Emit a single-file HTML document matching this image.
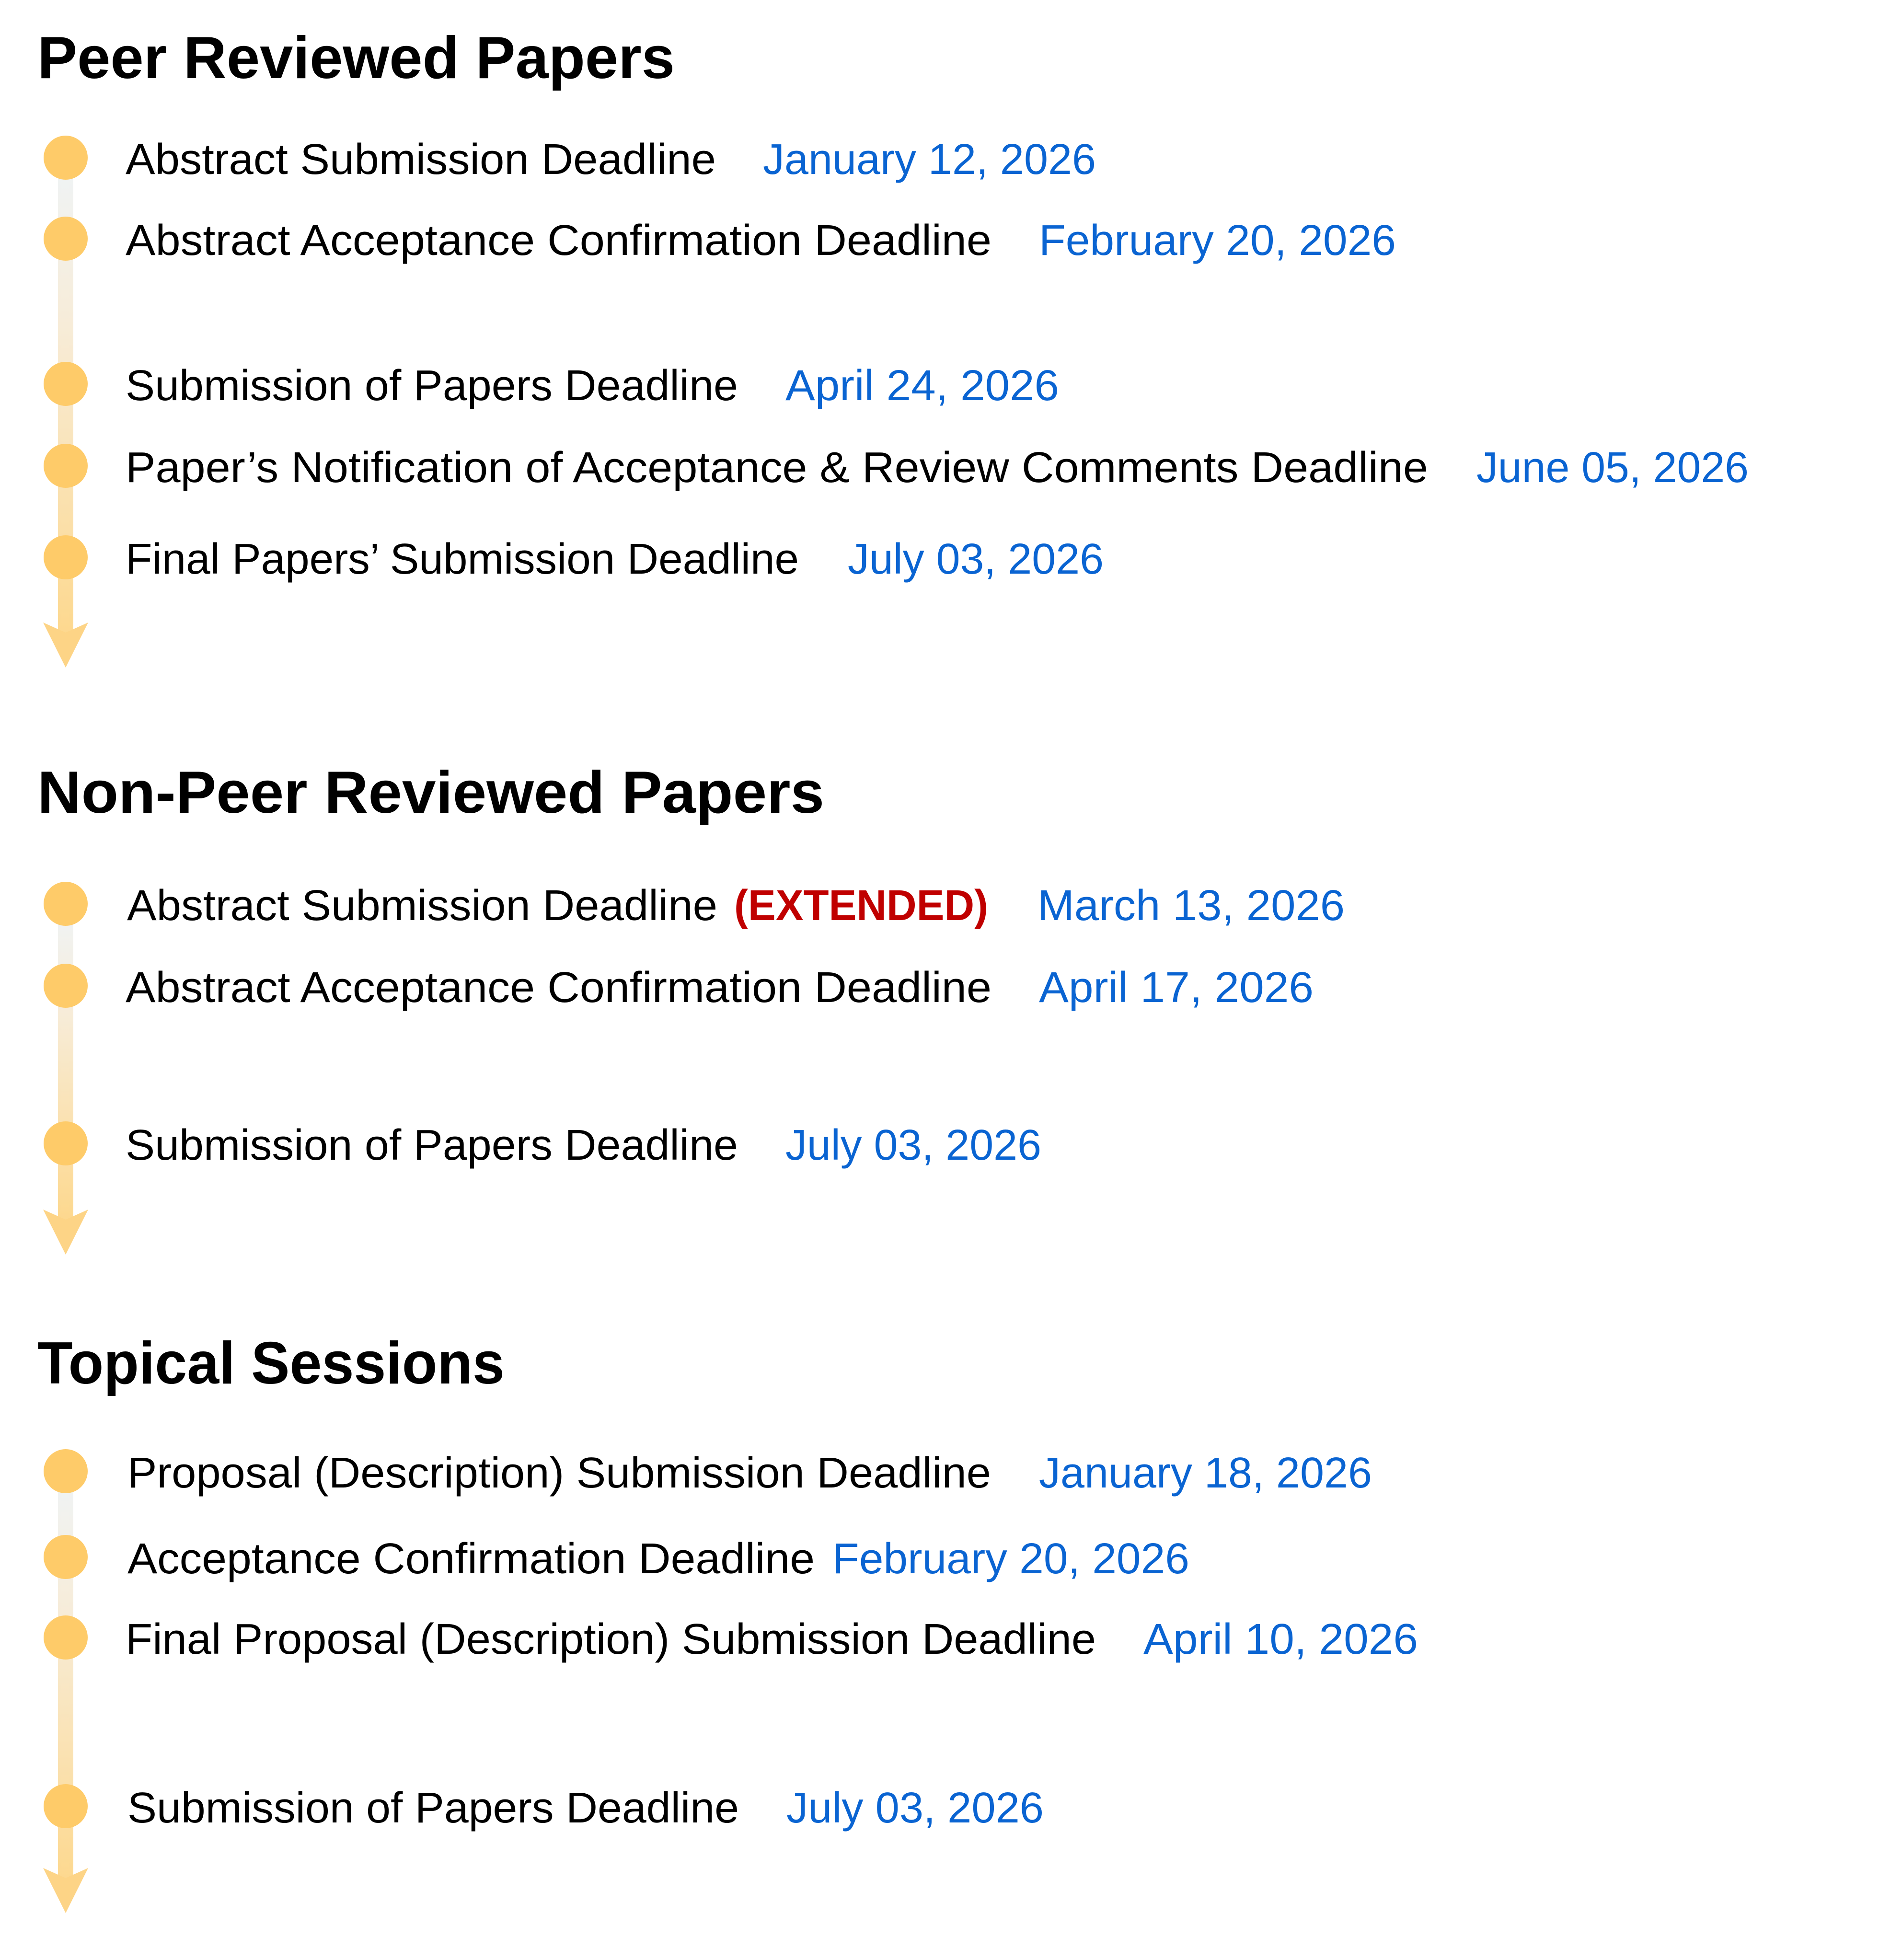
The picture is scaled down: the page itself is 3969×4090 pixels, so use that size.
<!DOCTYPE html>
<html><head><meta charset="utf-8"><style>
html,body{margin:0;padding:0;background:#fff;}
svg{display:block;}
text{font-family:"Liberation Sans","Noto Sans CJK KR",sans-serif;}
.h{font-weight:bold;font-size:124px;fill:#000;}
.l{font-size:90px;fill:#000;}
.d{font-size:90px;fill:#0a64d2;}
</style></head><body>
<svg width="3969" height="4090" viewBox="0 0 3969 4090" xmlns="http://www.w3.org/2000/svg">
<defs>
<linearGradient id="g1" x1="0" y1="0" x2="0" y2="1"><stop offset="0" stop-color="#eff4f7"/><stop offset="0.35" stop-color="#f7ecd8"/><stop offset="1" stop-color="#fdd88e"/></linearGradient>
</defs>
<!-- Section 1 -->
<text class="h" x="78" y="163" textLength="1330" lengthAdjust="spacingAndGlyphs">Peer Reviewed Papers</text>
<rect x="121" y="329" width="32" height="1000" fill="url(#g1)"/>
<polygon points="90,1299 137,1320 184,1299 137,1393" fill="#fdd486"/>
<g fill="#fecb69">
<circle cx="137" cy="329" r="46"/><circle cx="137" cy="498" r="46"/><circle cx="137" cy="801" r="46"/><circle cx="137" cy="972" r="46"/><circle cx="137" cy="1163" r="46"/>
</g>
<text class="l" x="262" y="363" textLength="1232" lengthAdjust="spacingAndGlyphs">Abstract Submission Deadline</text>
<text class="d" x="1592" y="363" textLength="695" lengthAdjust="spacingAndGlyphs">January 12, 2026</text>
<text class="l" x="262" y="532" textLength="1807" lengthAdjust="spacingAndGlyphs">Abstract Acceptance Confirmation Deadline</text>
<text class="d" x="2168" y="532" textLength="745" lengthAdjust="spacingAndGlyphs">February 20, 2026</text>
<text class="l" x="262" y="835" textLength="1278" lengthAdjust="spacingAndGlyphs">Submission of Papers Deadline</text>
<text class="d" x="1639" y="835" textLength="571" lengthAdjust="spacingAndGlyphs">April 24, 2026</text>
<text class="l" x="262" y="1006" textLength="2718" lengthAdjust="spacingAndGlyphs">Paper’s Notification of Acceptance &amp; Review Comments Deadline</text>
<text class="d" x="3081" y="1006" textLength="568" lengthAdjust="spacingAndGlyphs">June 05, 2026</text>
<text class="l" x="262" y="1197" textLength="1405" lengthAdjust="spacingAndGlyphs">Final Papers’ Submission Deadline</text>
<text class="d" x="1769" y="1197" textLength="534" lengthAdjust="spacingAndGlyphs">July 03, 2026</text>

<!-- Section 2 -->
<text class="h" x="78" y="1696" textLength="1642" lengthAdjust="spacingAndGlyphs">Non-Peer Reviewed Papers</text>
<rect x="121" y="1886" width="32" height="660" fill="url(#g1)"/>
<polygon points="90,2524 137,2545 184,2524 137,2618" fill="#fdd486"/>
<g fill="#fecb69">
<circle cx="137" cy="1886" r="46"/><circle cx="137" cy="2057" r="46"/><circle cx="137" cy="2386" r="46"/>
</g>
<text class="l" x="265" y="1920" textLength="1232" lengthAdjust="spacingAndGlyphs">Abstract Submission Deadline</text>
<text class="l" x="1532" y="1920" textLength="530" lengthAdjust="spacingAndGlyphs" style="fill:#c00000;font-weight:bold">(EXTENDED)</text>
<text class="d" x="2165" y="1920" textLength="641" lengthAdjust="spacingAndGlyphs">March 13, 2026</text>
<text class="l" x="262" y="2091" textLength="1807" lengthAdjust="spacingAndGlyphs">Abstract Acceptance Confirmation Deadline</text>
<text class="d" x="2168" y="2091" textLength="573" lengthAdjust="spacingAndGlyphs">April 17, 2026</text>
<text class="l" x="262" y="2420" textLength="1278" lengthAdjust="spacingAndGlyphs">Submission of Papers Deadline</text>
<text class="d" x="1639" y="2420" textLength="534" lengthAdjust="spacingAndGlyphs">July 03, 2026</text>

<!-- Section 3 -->
<text class="h" x="78" y="2887" textLength="975" lengthAdjust="spacingAndGlyphs">Topical Sessions</text>
<rect x="121" y="3070" width="32" height="860" fill="url(#g1)"/>
<polygon points="90,3898 137,3919 184,3898 137,3992" fill="#fdd486"/>
<g fill="#fecb69">
<circle cx="137" cy="3070" r="46"/><circle cx="137" cy="3249" r="46"/><circle cx="137" cy="3417" r="46"/><circle cx="137" cy="3769" r="46"/>
</g>
<text class="l" x="266" y="3104" textLength="1802" lengthAdjust="spacingAndGlyphs">Proposal (Description) Submission Deadline</text>
<text class="d" x="2168" y="3104" textLength="695" lengthAdjust="spacingAndGlyphs">January 18, 2026</text>
<text class="l" x="266" y="3283" textLength="1434" lengthAdjust="spacingAndGlyphs">Acceptance Confirmation Deadline</text>
<text class="d" x="1737" y="3283" textLength="745" lengthAdjust="spacingAndGlyphs">February 20, 2026</text>
<text class="l" x="262" y="3451" textLength="2025" lengthAdjust="spacingAndGlyphs">Final Proposal (Description) Submission Deadline</text>
<text class="d" x="2386" y="3451" textLength="573" lengthAdjust="spacingAndGlyphs">April 10, 2026</text>
<text class="l" x="266" y="3803" textLength="1276" lengthAdjust="spacingAndGlyphs">Submission of Papers Deadline</text>
<text class="d" x="1641" y="3803" textLength="537" lengthAdjust="spacingAndGlyphs">July 03, 2026</text>
</svg>
</body></html>
